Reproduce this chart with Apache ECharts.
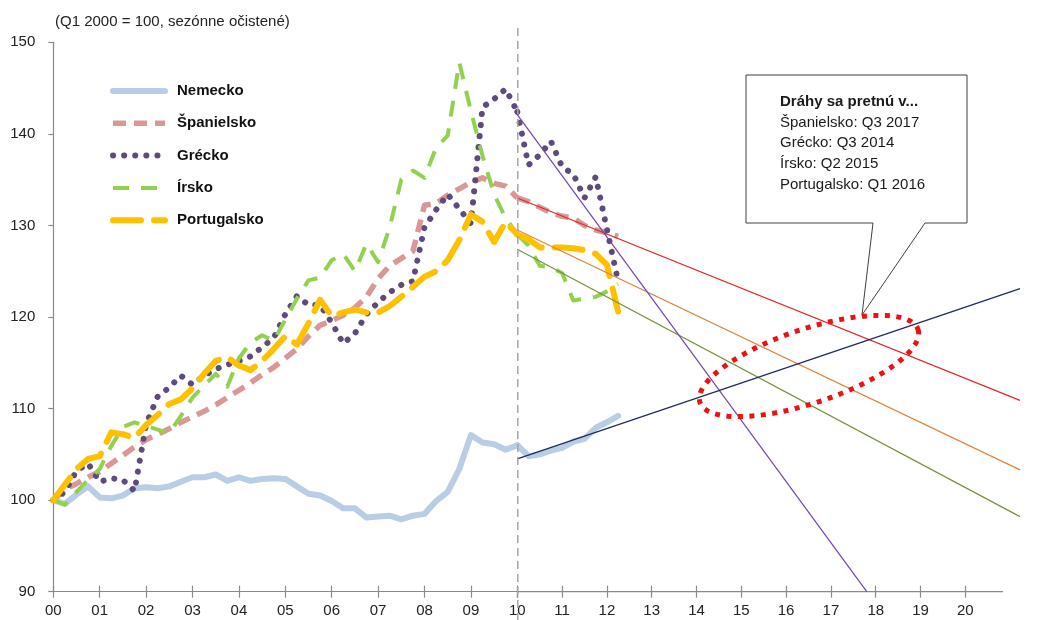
<!DOCTYPE html>
<html>
<head>
<meta charset="utf-8">
<script src="https://cdn.jsdelivr.net/npm/echarts@6/dist/echarts.min.js"></script>
<style>
  html, body { margin: 0; padding: 0; background: #ffffff; }
  #chart { width: 1039px; height: 620px; }
</style>
</head>
<body>
<div id="chart"></div>
<script>
// Quarterly index, Q1 2000 = 100, from Q1 2000 to Q2 2012 (50 quarters)
const seriesNames = ['Nemecko', 'Španielsko', 'Grécko', 'Írsko', 'Portugalsko'];

const nemecko = [
  100.0, 99.6, 100.6, 101.5, 100.3, 100.2, 100.5, 101.3, 101.4, 101.3,
  101.5, 102.0, 102.5, 102.5, 102.8, 102.1, 102.5, 102.1, 102.3, 102.4,
  102.3, 101.5, 100.7, 100.5, 99.9, 99.1, 99.1, 98.1, 98.2, 98.3,
  97.9, 98.3, 98.5, 99.9, 100.9, 103.4, 107.1, 106.3, 106.1, 105.5,
  106.0, 104.8, 105.0, 105.4, 105.7, 106.4, 106.7, 107.9, 108.5, 109.2
];
const spanielsko = [
  100.0, 101.2, 101.8, 102.5, 103.1, 104.0, 104.9, 105.8, 106.6, 107.2,
  107.8, 108.5, 109.1, 109.7, 110.4, 111.2, 112.0, 112.8, 113.7, 114.5,
  115.5, 116.5, 117.9, 119.1, 119.6, 120.2, 121.0, 122.2, 124.2, 125.6,
  126.4, 127.2, 132.2, 132.4, 133.3, 134.0, 134.7, 135.2, 134.6, 134.3,
  133.0, 132.6, 132.0, 131.4, 131.0, 130.8, 130.0, 129.5, 129.2, 128.8
];
const grecko = [
  100.0, 100.9, 103.2, 104.0, 102.0, 102.4, 102.2, 101.0, 108.3, 111.3,
  112.3, 113.6, 112.6, 113.6, 114.3, 114.8, 115.2, 115.7, 116.7, 117.7,
  120.3, 122.3, 121.3, 121.3, 119.4, 117.1, 118.2, 120.3, 121.6, 122.7,
  123.5, 123.9, 129.8, 131.7, 133.4, 131.8, 130.2, 142.9, 143.8, 144.9,
  142.4, 136.6, 137.7, 139.2, 136.4, 135.6, 133.0, 135.3, 129.6, 123.9
];
const irsko = [
  100.0, 99.5, 100.9, 102.2, 103.4, 105.9, 108.0, 108.5, 108.1, 107.7,
  107.3, 109.2, 111.2, 112.5, 113.8, 112.4, 115.5, 117.2, 118.0, 117.4,
  119.7, 122.0, 124.0, 124.3, 126.2, 126.9, 125.0, 128.0, 126.0, 129.8,
  135.0, 136.0, 135.2, 138.5, 139.8, 147.8, 142.5, 137.6, 133.4, 130.8,
  129.0, 127.8, 125.6, 125.4, 124.8, 121.8, 122.0, 122.2, 122.8, 123.6
];
const portugalsko = [
  100.0, 101.7, 103.4, 104.5, 104.8, 107.4, 107.2, 106.8, 108.2, 109.3,
  110.5, 111.0, 112.2, 113.8, 115.2, 115.6, 114.7, 114.2, 115.2, 116.5,
  117.9, 117.0, 119.3, 121.9, 120.1, 120.5, 120.8, 120.5, 120.5, 121.2,
  122.2, 123.3, 124.4, 125.0, 126.2, 128.4, 131.2, 130.4, 128.2, 130.4,
  129.0, 128.5, 127.6, 127.6, 127.6, 127.5, 127.3, 126.9, 125.7, 120.6
];

// Linear trend paths from 2010 onward: [year offset, index]
const trendSpanielsko = [[10, 133.0], [21.22, 110.9]];
const trendPortugalsko = [[10, 129.5], [21.22, 103.3]];
const trendIrsko = [[10, 127.4], [21.22, 98.2]];
const trendGrecko = [[10, 142.1], [17.8, 90.0]];
const trendNemecko = [[10, 104.5], [21.22, 123.1]];

const xTickLabels = ['00','01','02','03','04','05','06','07','08','09','10',
                     '11','12','13','14','15','16','17','18','19','20'];
const yTicks = [90, 100, 110, 120, 130, 140, 150];

const calloutTitle = 'Dráhy sa pretnú v...';
const calloutLines = ['Španielsko: Q3 2017', 'Grécko: Q3 2014', 'Írsko: Q2 2015', 'Portugalsko: Q1 2016'];
const subtitle = '(Q1 2000 = 100, sezónne očistené)';

const FONT = '"Liberation Sans", Arial, sans-serif';
const SPLIT = 40; // index of Q1 2010, where the second panel starts

// quarter index -> year offset from 2000
function points(vals, from, to) {
  return vals.slice(from, to + 1).map((v, k) => [(from + k) / 4, v]);
}

const styles = {
  'Nemecko':     { color: '#b9cde5', width: 6, type: 'solid', cap: 'round' },
  'Španielsko':  { color: '#d99795', width: 5.5, type: [13, 8], cap: 'butt' },
  'Grécko':      { color: '#5f4a7d', width: 6, type: [0.1, 11], cap: 'round' },
  'Írsko':       { color: '#92d050', width: 4, type: [16, 12], cap: 'butt' },
  'Portugalsko': { color: '#ffc000', width: 6, type: [28, 13], cap: 'round' }
};
const values = {
  'Nemecko': nemecko, 'Španielsko': spanielsko, 'Grécko': grecko,
  'Írsko': irsko, 'Portugalsko': portugalsko
};

const series = [];
seriesNames.forEach((name, idx) => {
  const st = styles[name];
  const base = {
    name: name,
    type: 'line',
    symbol: 'none',
    smooth: false,
    z: 2 + idx * 0.1,
    color: st.color,
    lineStyle: { color: st.color, width: st.width, type: st.type, cap: st.cap, join: 'round' },
    emphasis: { disabled: true },
    animation: false
  };
  series.push(Object.assign({}, base, { xAxisIndex: 0, yAxisIndex: 0, data: points(values[name], 0, SPLIT) }));
  series.push(Object.assign({}, base, { xAxisIndex: 1, yAxisIndex: 1, data: points(values[name], SPLIT, values[name].length - 1) }));
});

const trends = [
  { id: 'tr-es', data: trendSpanielsko, color: '#e02a2a' },
  { id: 'tr-pt', data: trendPortugalsko, color: '#e0843f' },
  { id: 'tr-ie', data: trendIrsko, color: '#77933c' },
  { id: 'tr-gr', data: trendGrecko, color: '#7446aa' },
  { id: 'tr-de', data: trendNemecko, color: '#1f2a5c' }
];
trends.forEach(t => {
  series.push({
    id: t.id,
    type: 'line',
    xAxisIndex: 1,
    yAxisIndex: 1,
    symbol: 'none',
    z: 4,
    data: t.data,
    lineStyle: { color: t.color, width: 1.2 },
    emphasis: { disabled: true },
    animation: false
  });
});

// Rotated ellipse drawn around the crossing points
const ell = { cx: 809, cy: 366, a: 115, b: 37, rot: -18.5 * Math.PI / 180 };
const ellipsePoints = [];
for (let k = 0; k < 120; k++) {
  const p = k / 120 * Math.PI * 2;
  const ex = ell.a * Math.cos(p), ey = ell.b * Math.sin(p);
  ellipsePoints.push([
    ell.cx + ex * Math.cos(ell.rot) - ey * Math.sin(ell.rot),
    ell.cy + ex * Math.sin(ell.rot) + ey * Math.cos(ell.rot)
  ]);
}

const axisGray = '#8a8a8a';
const G = { top: 42.3, height: 549.4, bottom: 591.7 };
const RIGHT_MAX = 21.22;     // trend lines run to here
const AXIS_END_X = 1003;     // the drawn x axis stops a little earlier

const tickVals = [10, 11, 12, 13, 14, 15, 16, 17, 18, 19, 20];

const option = {
  backgroundColor: '#ffffff',
  animation: false,
  textStyle: { fontFamily: FONT },
  grid: [
    { left: 53.3, top: G.top, width: 464, height: G.height, containLabel: false },
    { left: 517.3, top: G.top, width: 502.7, height: G.height, containLabel: false }
  ],
  xAxis: [
    {
      gridIndex: 0, type: 'value', position: 'bottom', min: 0, max: 10, interval: 1,
      axisLine: { lineStyle: { color: axisGray, width: 1.2 } },
      axisTick: { length: 6, lineStyle: { color: axisGray, width: 1.2 } },
      axisLabel: { color: '#222', fontSize: 15, margin: 12, fontFamily: FONT,
                   formatter: v => xTickLabels[Math.round(v)] },
      splitLine: { show: false }
    },
    {
      gridIndex: 1, type: 'value', position: 'bottom', min: 10, max: RIGHT_MAX, interval: 1,
      axisLine: { show: false },
      axisTick: { length: 6, lineStyle: { color: axisGray, width: 1.2 }, customValues: tickVals },
      axisLabel: { color: '#222', fontSize: 15, margin: 12, fontFamily: FONT,
                   customValues: tickVals.slice(1),
                   formatter: v => xTickLabels[Math.round(v)] },
      splitLine: { show: false }
    },
    {
      gridIndex: 0, type: 'value', position: 'bottom', min: 0, max: 10, interval: 1,
      axisLine: { show: false },
      axisTick: { inside: true, length: 6, lineStyle: { color: axisGray, width: 1.2 } },
      axisLabel: { show: false }, splitLine: { show: false }
    },
    {
      gridIndex: 1, type: 'value', position: 'bottom', min: 10, max: RIGHT_MAX, interval: 1,
      axisLine: { show: false },
      axisTick: { inside: true, length: 6, lineStyle: { color: axisGray, width: 1.2 }, customValues: tickVals },
      axisLabel: { show: false }, splitLine: { show: false }
    }
  ],
  yAxis: [
    {
      gridIndex: 0, type: 'value', min: yTicks[0], max: yTicks[yTicks.length - 1], interval: 10,
      axisLine: { show: true, lineStyle: { color: axisGray, width: 1.2 } },
      axisTick: { show: true, length: 5, lineStyle: { color: axisGray, width: 1.2 } },
      axisLabel: { color: '#222', fontSize: 15, margin: 18, fontFamily: FONT },
      splitLine: { show: false }
    },
    {
      gridIndex: 1, type: 'value', min: yTicks[0], max: yTicks[yTicks.length - 1], interval: 10,
      show: false, splitLine: { show: false }
    }
  ],
  legend: {
    data: seriesNames,
    orient: 'vertical',
    left: 110,
    top: 83,
    padding: 0,
    itemWidth: 52,
    itemHeight: 16,
    itemGap: 16.3,
    selectedMode: false,
    textStyle: { fontFamily: FONT, fontSize: 15, fontWeight: 'bold', color: '#111',
                 lineHeight: 16, padding: [0, 0, 0, 7] },
    itemStyle: { color: 'rgba(0,0,0,0)', borderWidth: 0, opacity: 0 },
    lineStyle: { width: 'inherit' }
  },
  graphic: [
    {
      type: 'text', left: 55, top: 14, z: 10,
      style: { text: subtitle, fontFamily: FONT, fontSize: 15, fill: '#222' }
    },
    {
      // x axis baseline of the projection panel
      type: 'line', z: 3,
      shape: { x1: 517.3, y1: G.bottom, x2: AXIS_END_X, y2: G.bottom },
      style: { stroke: axisGray, lineWidth: 1.2 }
    },
    {
      type: 'line', z: 6,
      shape: { x1: 517.8, y1: 28, x2: 517.8, y2: 620 },
      style: { stroke: '#a6a6a6', lineWidth: 1.5, lineDash: [8, 5] }
    },
    {
      type: 'polygon', z: 10,
      shape: { points: [[746, 75], [967, 75], [967, 223], [925, 223], [862, 315], [873, 223], [746, 223]] },
      style: { fill: '#ffffff', stroke: '#404040', lineWidth: 1 }
    },
    {
      type: 'text', left: 780, top: 91.3, z: 11,
      style: {
        text: '{b|' + calloutTitle + '}\n' + calloutLines.join('\n'),
        fontFamily: FONT, fontSize: 15, lineHeight: 20.8, fill: '#1a1a1a',
        rich: { b: { fontFamily: FONT, fontSize: 15, fontWeight: 'bold', lineHeight: 20.8, fill: '#1a1a1a' } }
      }
    },
    {
      type: 'polygon', z: 12,
      shape: { points: ellipsePoints },
      style: { fill: 'none', stroke: '#ee1111', lineWidth: 5, lineDash: [5, 6.5] }
    }
  ],
  series: series
};

const chart = echarts.init(document.getElementById('chart'), null, { renderer: 'canvas' });
chart.setOption(option);
</script>
</body>
</html>
